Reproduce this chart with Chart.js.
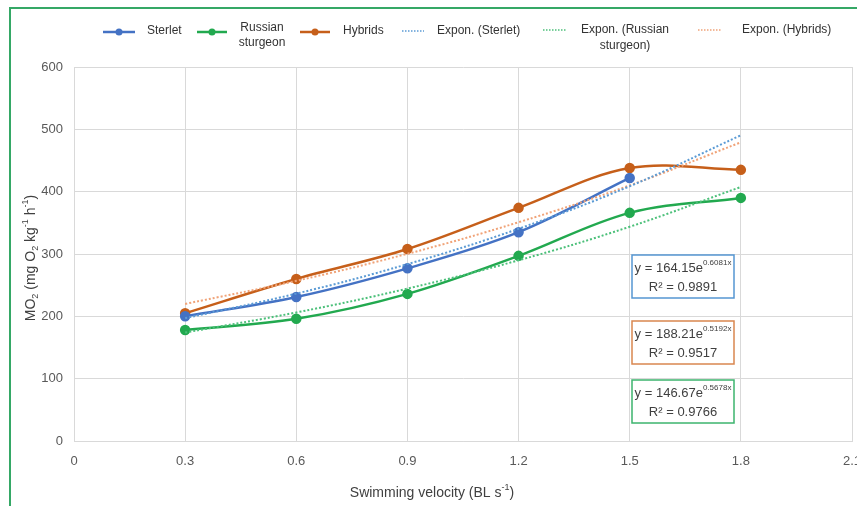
<!DOCTYPE html>
<html>
<head>
<meta charset="utf-8">
<script src="https://cdn.jsdelivr.net/npm/chart.js@4.4.0/dist/chart.umd.min.js"></script>
<style>
  html, body { margin: 0; padding: 0; background: #fff; overflow: hidden; }
  #wrap { width: 880px; height: 506px; }
</style>
</head>
<body>
<div id="wrap"><canvas id="mo2Chart" width="880" height="506"></canvas></div>
<script>
// swimming velocity (BL s-1) and MO2 per group
const velocity = [0.3, 0.6, 0.9, 1.2, 1.5, 1.8];
const sterlet = [200, 231, 277, 335, 422];
const russianSturgeon = [178, 196, 236, 297, 366, 390];
const hybrids = [205, 260, 308, 374, 438, 435];

// exponential fits y = a e^(bx): sterlet, russian sturgeon, hybrids
const fitA = [164.15, 146.67, 188.21];
const fitB = [0.6081, 0.5678, 0.5192];
const fitR2 = ["0.9891", "0.9766", "0.9517"];

const BLUE = "#4472c4", GREEN = "#22a94f", ORANGE = "#c65f1a";
const BLUE_T = "#5b9bd5", GREEN_T = "#4cc07a", ORANGE_T = "#f0a378";
const FONT = "'Liberation Sans', Arial, sans-serif";

Chart.defaults.font.family = FONT;

const pts = (ys) => ys.map((y, i) => ({ x: velocity[i], y }));
const trend = (k) => velocity.map(x => ({ x, y: fitA[k] * Math.exp(fitB[k] * x) }));

function series(label, data, color) {
  return {
    label, data, borderColor: color, backgroundColor: color,
    borderWidth: 2.5, pointRadius: 4, pointHoverRadius: 4,
    pointBackgroundColor: color, pointBorderColor: color,
    tension: 0.35, order: 1
  };
}
function trendSeries(label, k, color) {
  return {
    label, data: trend(k), borderColor: color, borderWidth: 2,
    borderDash: [2, 2], pointRadius: 0, tension: 0.4, order: 0
  };
}

// rich text with sub/superscript pieces, centered on x
function drawRich(ctx, parts, x, y, base, small, color) {
  ctx.save();
  ctx.fillStyle = color;
  ctx.textBaseline = "middle";
  ctx.textAlign = "left";
  let total = 0;
  parts.forEach(p => {
    ctx.font = (p[1] === "n" ? base : small) + "px " + FONT;
    p.w = ctx.measureText(p[0]).width;
    total += p.w;
  });
  let cx = x - total / 2;
  parts.forEach(p => {
    ctx.font = (p[1] === "n" ? base : small) + "px " + FONT;
    let dy = 0;
    if (p[1] === "sup") dy = -base * 0.38;
    if (p[1] === "sub") dy = base * 0.3;
    ctx.fillText(p[0], cx, y + dy);
    cx += p.w;
  });
  ctx.restore();
}

const decorations = {
  id: "decorations",
  beforeDraw(chart) {
    const ctx = chart.ctx;
    ctx.save();
    ctx.fillStyle = "#fff";
    ctx.fillRect(0, 0, chart.width, chart.height);
    ctx.strokeStyle = "#35a866";
    ctx.lineWidth = 2;
    ctx.beginPath();
    ctx.moveTo(10, chart.height);
    ctx.lineTo(10, 8);
    ctx.lineTo(chart.width, 8);
    ctx.stroke();
    ctx.restore();
  },
  afterDraw(chart) {
    const ctx = chart.ctx;

    // legend
    const items = [
      { c: BLUE, dot: false, x1: 103, x2: 135, ly: 32, lines: ["Sterlet"], tx: 147, ty: [31] },
      { c: GREEN, dot: false, x1: 197, x2: 227, ly: 32, lines: ["Russian", "sturgeon"], tx: 262, ty: [28, 43], center: true },
      { c: ORANGE, dot: false, x1: 300, x2: 330, ly: 32, lines: ["Hybrids"], tx: 343, ty: [31] },
      { c: BLUE_T, dot: true, x1: 402, x2: 424, ly: 31, lines: ["Expon. (Sterlet)"], tx: 437, ty: [31] },
      { c: GREEN_T, dot: true, x1: 543, x2: 566, ly: 30, lines: ["Expon. (Russian", "sturgeon)"], tx: 625, ty: [30, 46], center: true },
      { c: ORANGE_T, dot: true, x1: 698, x2: 721, ly: 30, lines: ["Expon. (Hybrids)"], tx: 742, ty: [30] }
    ];
    ctx.save();
    items.forEach(it => {
      ctx.strokeStyle = it.c;
      ctx.lineWidth = it.dot ? 1.5 : 2.5;
      ctx.setLineDash(it.dot ? [1.5, 1.5] : []);
      ctx.beginPath();
      ctx.moveTo(it.x1, it.ly);
      ctx.lineTo(it.x2, it.ly);
      ctx.stroke();
      ctx.setLineDash([]);
      if (!it.dot) {
        ctx.fillStyle = it.c;
        ctx.beginPath();
        ctx.arc((it.x1 + it.x2) / 2, it.ly, 3.5, 0, Math.PI * 2);
        ctx.fill();
      }
      ctx.fillStyle = "#333";
      ctx.font = "12px " + FONT;
      ctx.textBaseline = "middle";
      ctx.textAlign = it.center ? "center" : "left";
      it.lines.forEach((t, i) => ctx.fillText(t, it.tx, it.ty[i]));
    });
    ctx.restore();

    // axis titles
    drawRich(ctx, [["Swimming velocity (BL s", "n"], ["-1", "sup"], [")", "n"]],
      432, 493, 14, 9, "#404040");
    ctx.save();
    ctx.translate(31, 258);
    ctx.rotate(-Math.PI / 2);
    drawRich(ctx, [["MO", "n"], ["2", "sub"], [" (mg O", "n"], ["2", "sub"], [" kg", "n"],
      ["-1", "sup"], [" h", "n"], ["-1", "sup"], [")", "n"]], 0, 0, 14, 9, "#404040");
    ctx.restore();

    // fit equation boxes
    const boxes = [
      { k: 0, c: "#5596d2", top: 255 },
      { k: 2, c: "#d9864f", top: 321 },
      { k: 1, c: "#3cb46e", top: 380 }
    ];
    boxes.forEach(b => {
      const left = 632, w = 102, h = 43;
      ctx.save();
      ctx.fillStyle = "#fff";
      ctx.fillRect(left, b.top, w, h);
      ctx.strokeStyle = b.c;
      ctx.lineWidth = 1.5;
      ctx.strokeRect(left, b.top, w, h);
      ctx.restore();
      const cx = left + w / 2;
      drawRich(ctx, [["y = " + fitA[b.k].toFixed(2) + "e", "n"], [fitB[b.k].toFixed(4) + "x", "sup"]],
        cx, b.top + 13, 13, 8, "#404040");
      drawRich(ctx, [["R² = " + fitR2[b.k], "n"]], cx, b.top + 32, 13, 8, "#404040");
    });
  }
};

const ctx = document.getElementById("mo2Chart").getContext("2d");

const mo2Chart = new Chart(ctx, {
  type: "line",
  data: {
    datasets: [
      series("Sterlet", pts(sterlet), BLUE),
      series("Russian sturgeon", pts(russianSturgeon), GREEN),
      series("Hybrids", pts(hybrids), ORANGE),
      trendSeries("Expon. (Sterlet)", 0, BLUE_T),
      trendSeries("Expon. (Russian sturgeon)", 1, GREEN_T),
      trendSeries("Expon. (Hybrids)", 2, ORANGE_T)
    ]
  },
  options: {
    responsive: false,
    animation: false,
    layout: { padding: { left: 0, top: 67, right: 28, bottom: 0 } },
    plugins: { legend: { display: false }, tooltip: { enabled: false } },
    scales: {
      x: {
        type: "linear",
        min: 0, max: 2.1,
        afterFit(s) { s.height = 65; },
        grid: { color: "#d9d9d9", drawTicks: false },
        border: { color: "#d9d9d9" },
        ticks: {
          stepSize: 0.3, padding: 13, color: "#595959", font: { size: 13 },
          callback: v => (Math.abs(v) < 1e-9 ? "0" : v.toFixed(1))
        }
      },
      y: {
        min: 0, max: 600,
        afterFit(s) { s.width = 74; },
        grid: { color: "#d9d9d9", drawTicks: false },
        border: { color: "#d9d9d9" },
        ticks: { stepSize: 100, padding: 11, color: "#595959", font: { size: 13 } }
      }
    }
  },
  plugins: [decorations]
});
</script>
</body>
</html>
